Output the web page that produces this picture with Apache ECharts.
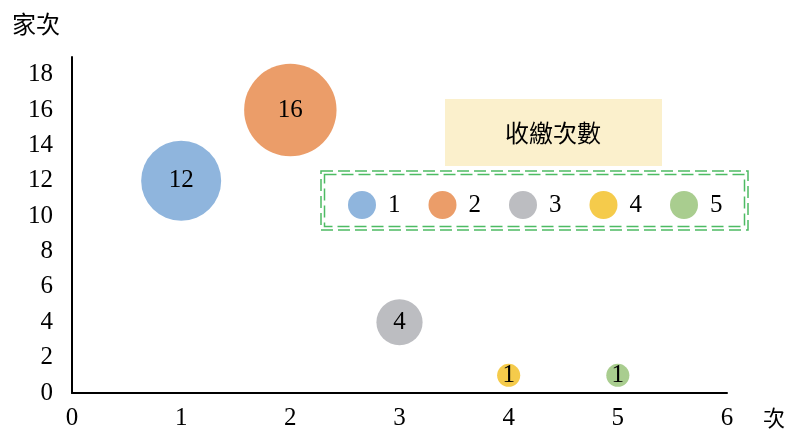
<!DOCTYPE html>
<html>
<head>
<meta charset="utf-8">
<script src="https://cdn.jsdelivr.net/npm/echarts@6/dist/echarts.min.js"></script>
<style>
  html, body { margin: 0; padding: 0; background: #fff; }
  #chart { width: 799px; height: 434px; }
</style>
</head>
<body>
<div id="chart"></div>
<script>
// 資料
const names = ['1', '2', '3', '4', '5']
const xValues = [1, 2, 3, 4, 5]
const yValues = [12, 16, 4, 1, 1]
const sizes = [12, 16, 4, 1, 1]
const colors = ['#8fb5dd', '#eb9d69', '#bcbdc1', '#f5cb4b', '#a9cd8f']
const title = '收繳次數'
const xName = '次'
const yName = '家次'

const serif = '"Liberation Serif", "DejaVu Serif", serif'
const cjk = '"Noto Sans CJK TC", "Noto Sans CJK SC", sans-serif'

const chart = echarts.init(document.getElementById('chart'))

const series = names.map((n, i) => ({
  name: n,
  type: 'scatter',
  data: [[xValues[i], yValues[i], sizes[i]]],
  symbolSize: d => 23.1 * Math.sqrt(d[2]),
  itemStyle: { color: colors[i], opacity: 1 },
  label: {
    show: true,
    position: 'inside',
    formatter: p => p.value[2],
    color: '#000',
    fontFamily: serif,
    fontSize: 25
  }
}))

chart.setOption({
  animation: false,
  grid: { left: 72, right: 72, top: 57, bottom: 41 },
  xAxis: {
    type: 'value',
    min: 0,
    max: 6,
    interval: 1,
    name: xName,
    nameLocation: 'end',
    nameGap: 36,
    nameTextStyle: { color: '#000', fontFamily: cjk, fontSize: 22, verticalAlign: 'top', padding: [14, 0, 0, 0] },
    axisLine: { lineStyle: { color: '#000', width: 2 } },
    axisTick: { show: false },
    splitLine: { show: false },
    axisLabel: { color: '#000', fontFamily: serif, fontSize: 25, margin: 13 }
  },
  yAxis: {
    type: 'value',
    min: 0,
    max: 19,
    interval: 2,
    name: yName,
    nameLocation: 'end',
    nameGap: 21,
    nameTextStyle: { color: '#000', fontFamily: cjk, fontSize: 24, align: 'right', padding: [0, 12, 0, 0] },
    axisLine: { show: true, lineStyle: { color: '#000', width: 2 } },
    axisTick: { show: false },
    splitLine: { show: false },
    axisLabel: {
      color: '#000', fontFamily: serif, fontSize: 25, margin: 19,
      formatter: v => (v % 2 === 0 ? v : '')
    }
  },
  legend: {
    data: names,
    left: 343,
    top: 186,
    icon: 'circle',
    itemWidth: 28,
    itemHeight: 28,
    itemGap: 28,
    textStyle: { color: '#000', fontFamily: serif, fontSize: 25, padding: [0, 0, 0, 7] }
  },
  graphic: [
    {
      type: 'rect',
      shape: { x: 445, y: 99, width: 217, height: 67 },
      style: { fill: '#fbf0cc' },
      z: 1
    },
    {
      type: 'text',
      x: 553,
      y: 133,
      style: { text: title, fill: '#000', font: '24px ' + cjk, align: 'center', verticalAlign: 'middle' },
      z: 2
    },
    {
      type: 'rect',
      shape: { x: 321, y: 171, width: 427, height: 59 },
      style: { fill: 'none', stroke: '#4dbb63', lineWidth: 1.5, lineDash: [12, 5] },
      z: 2
    },
    {
      type: 'rect',
      shape: { x: 324.5, y: 174.5, width: 420, height: 52 },
      style: { fill: 'none', stroke: '#4dbb63', lineWidth: 1.5, lineDash: [12, 5] },
      z: 2
    }
  ],
  series
})
</script>
</body>
</html>
